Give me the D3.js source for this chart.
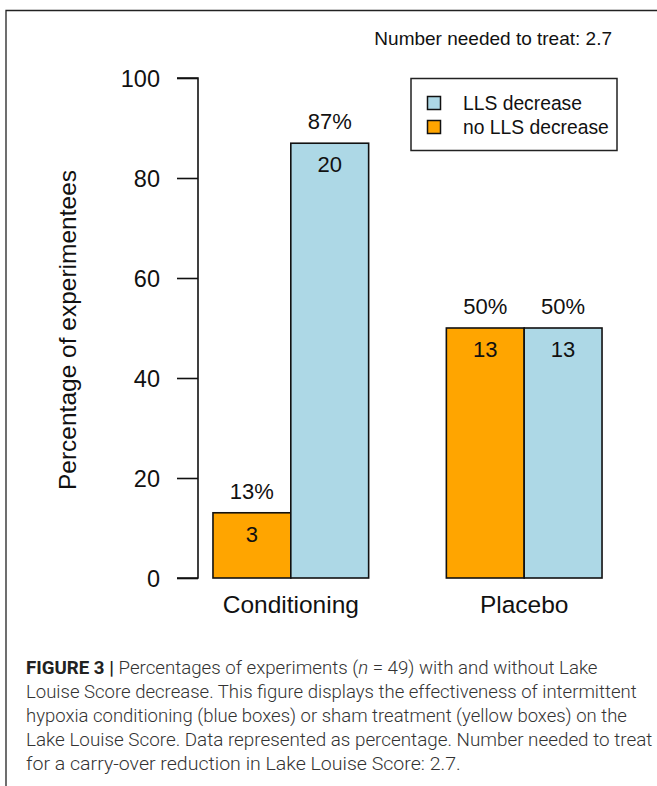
<!DOCTYPE html>
<html><head><meta charset="utf-8">
<script src="https://cdn.jsdelivr.net/npm/d3@7"></script>
<style>
html,body{margin:0;padding:0;background:#fff;}
svg{display:block;}
</style></head>
<body>
<script>
const groups = ["Conditioning", "Placebo"];
const seriesNames = ["no LLS decrease", "LLS decrease"];
const counts = {"Conditioning": [3, 20], "Placebo": [13, 13]};
const percentLabels = {"Conditioning": ["13%", "87%"], "Placebo": ["50%", "50%"]};
const legendOrder = ["LLS decrease", "no LLS decrease"];
const yTicks = [0, 20, 40, 60, 80, 100];
const colors = {"no LLS decrease": "#FFA500", "LLS decrease": "#ADD8E6"};
const captionLines = [
  ["FIGURE 3 | ", "Percentages of experiments (", "n", " = 49) with and without Lake"],
  ["", "Louise Score decrease. This figure displays the effectiveness of intermittent"],
  ["", "hypoxia conditioning (blue boxes) or sham treatment (yellow boxes) on the"],
  ["", "Lake Louise Score. Data represented as percentage. Number needed to treat"],
  ["", "for a carry-over reduction in Lake Louise Score: 2.7."]
];
const captionLineEnds = [598, 637, 627, 653, 461];

const W = 657, H = 786;
const svg = d3.select("body").append("svg").attr("width", W).attr("height", H);

// frame
svg.append("path").attr("d", `M6,${H+5} L6,10.5 L${W+5},10.5`).attr("fill","none").attr("stroke","#222").attr("stroke-width",1.3);

const font = "Arial, 'Liberation Sans', sans-serif";

const y = d3.scaleLinear().domain([0, 100]).range([578, 78]);
const x0 = d3.scaleBand().domain(groups).range([174, 641]).paddingInner(0.333).paddingOuter(0.167);
const x1 = d3.scaleBand().domain(seriesNames).range([0, x0.bandwidth()]).padding(0);

// y axis
const yAxis = d3.axisLeft(y).tickValues(yTicks).tickSize(21).tickPadding(17).tickSizeOuter(0);
const ga = svg.append("g").attr("transform", "translate(198,0)").call(yAxis);
ga.select(".domain").attr("stroke","#111").attr("stroke-width",1.6).attr("d", `M-21,${y(100)}H0V${y(0)}H-21`);
ga.selectAll(".tick line").attr("stroke","#111").attr("stroke-width",1.6);
ga.selectAll(".tick text").attr("font-family", font).attr("font-size", 23.5).attr("fill","#111").attr("dy","0.36em");

svg.append("text").attr("transform", "translate(76,330) rotate(-90)")
  .attr("text-anchor","middle").attr("font-family",font).attr("font-size",24.5).attr("fill","#111")
  .text("Percentage of experimentees");

const total = g => d3.sum(counts[g]);
groups.forEach(g => {
  const gg = svg.append("g").attr("transform", `translate(${x0(g)},0)`);
  seriesNames.forEach((s, i) => {
    const v = counts[g][i] / total(g) * 100;
    gg.append("rect").attr("x", x1(s)).attr("width", x1.bandwidth())
      .attr("y", y(v)).attr("height", y(0) - y(v))
      .attr("fill", colors[s]).attr("stroke", "#111").attr("stroke-width", 1.6);
    gg.append("text").attr("x", x1(s) + x1.bandwidth()/2).attr("y", y(v) - 22)
      .attr("text-anchor","middle").attr("dy","0.36em").attr("font-family",font).attr("font-size",22).attr("fill","#111")
      .text(percentLabels[g][i]);
    gg.append("text").attr("x", x1(s) + x1.bandwidth()/2).attr("y", y(v) + 21)
      .attr("text-anchor","middle").attr("dy","0.36em").attr("font-family",font).attr("font-size",22).attr("fill","#111")
      .text(counts[g][i]);
  });
  svg.append("text").attr("x", x0(g) + x0.bandwidth()/2).attr("y", 604)
    .attr("text-anchor","middle").attr("dy","0.36em").attr("font-family",font).attr("font-size",24.5).attr("fill","#111")
    .text(g);
});

// legend
const lg = svg.append("g");
lg.append("rect").attr("x",411).attr("y",78.5).attr("width",206).attr("height",72).attr("fill","#fff").attr("stroke","#222").attr("stroke-width",1.5);
legendOrder.forEach((s, i) => {
  const cy = 103 + i*24;
  lg.append("rect").attr("x",427.5).attr("y",cy-6.5).attr("width",13).attr("height",13).attr("fill",colors[s]).attr("stroke","#111").attr("stroke-width",1.5);
  lg.append("text").attr("x",463).attr("y",cy).attr("dy","0.36em").attr("font-family",font).attr("font-size",19.3).attr("fill","#111").text(s);
});

svg.append("text").attr("x",612).attr("y",38).attr("text-anchor","end").attr("dy","0.36em")
  .attr("font-family",font).attr("font-size",19).attr("fill","#111").text("Number needed to treat: 2.7");

// caption
const capFont = "Roboto, 'Liberation Sans', sans-serif";
captionLines.forEach((parts, li) => {
  const t = svg.append("text").attr("x", 26).attr("y", 667 + li*24).attr("dy","0.36em")
    .attr("font-family", capFont).attr("font-size", 19).attr("fill", "#333").attr("font-weight", 300);
  parts.forEach((p, pi) => {
    if (!p) return;
    const ts = t.append("tspan").text(p);
    if (li === 0 && pi === 0) ts.attr("font-weight", 700).attr("fill","#222");
    if (li === 0 && pi === 2) ts.attr("font-style", "italic");
  });
  const target = captionLineEnds[li] - 26;
  const w = t.node().getComputedTextLength();
  if (w > 0) {
    // scale horizontally to match the reference line length
    t.attr("x", 0).attr("transform", `translate(26,0) scale(${target / w},1)`);
  }
});
</script>
</body></html>
